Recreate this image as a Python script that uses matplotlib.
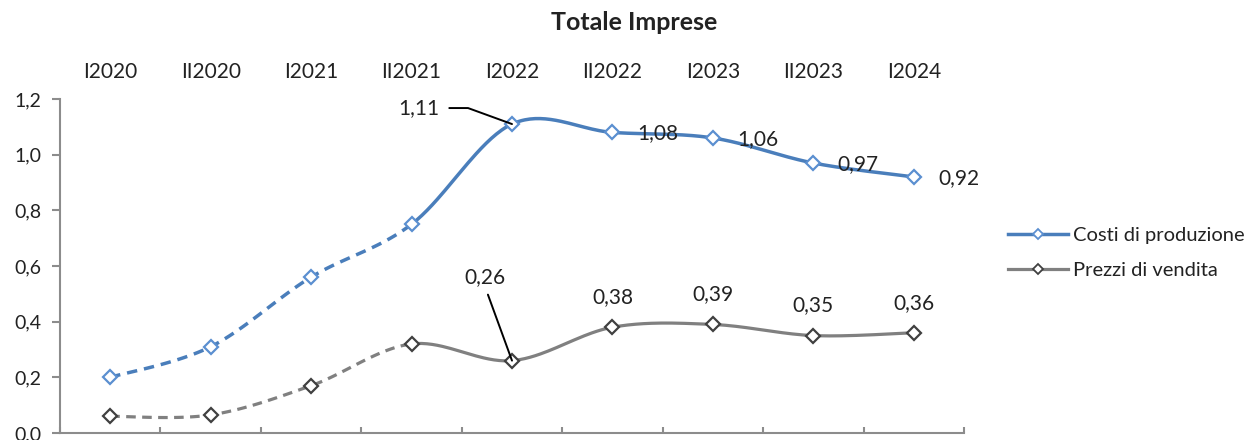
import numpy as np
import matplotlib
matplotlib.use("Agg")
import matplotlib.pyplot as plt
from matplotlib.lines import Line2D

plt.rcParams['font.family'] = ['Lato', 'DejaVu Sans']

# ---- data -----------------------------------------------------------------
periods = ["I2020", "II2020", "I2021", "II2021", "I2022",
           "II2022", "I2023", "II2023", "I2024"]
costi = [0.20, 0.31, 0.56, 0.75, 1.11, 1.08, 1.06, 0.97, 0.92]
prezzi = [0.06, 0.065, 0.17, 0.32, 0.26, 0.38, 0.39, 0.35, 0.36]
series_names = ["Costi di produzione", "Prezzi di vendita"]
title = "Totale Imprese"
yticks = [0.0, 0.2, 0.4, 0.6, 0.8, 1.0, 1.2]
labelled_costi = [4, 5, 6, 7, 8]          # indices with a value label
labelled_prezzi = [4, 5, 6, 7, 8]
dashed_until = 3                           # dashed stretch ends at this index

BLUE = "#4A7EBB"
BLUE_MK = "#5B8FD0"
GREY = "#808080"
GREY_MK = "#404040"
TXT = "#222222"
AXC = "#8C8C8C"
FS = 15


def smooth_segments(xs, ys, n=40):
    """Catmull-Rom style Bezier smoothing, one sampled array per segment."""
    P = np.column_stack([xs, ys]).astype(float)
    m = len(P)
    t = np.linspace(0, 1, n)[:, None]
    segs = []
    for i in range(m - 1):
        p0 = P[i - 1] if i > 0 else P[i]
        p3 = P[i + 2] if i + 2 < m else P[i + 1]
        a, d = P[i], P[i + 1]
        b = a + (d - p0) / 6.0
        c = d - (p3 - a) / 6.0
        pts = ((1 - t) ** 3) * a + 3 * ((1 - t) ** 2) * t * b \
            + 3 * (1 - t) * t ** 2 * c + t ** 3 * d
        segs.append(pts)
    return segs


def fmt(v):
    return f"{v:.2f}".replace(".", ",")


fig = plt.figure(figsize=(12.58, 4.40), dpi=100)
ax = fig.add_axes([60 / 1258, 7 / 440, 904 / 1258, 334 / 440])

x = np.arange(len(periods))


def draw_series(vals, color, mk_edge, lw):
    segs = smooth_segments(x, vals)
    dash = np.vstack(segs[:dashed_until])
    solid = np.vstack(segs[dashed_until:])
    ax.plot(dash[:, 0], dash[:, 1], color=color, lw=lw,
            linestyle=(0, (3.0, 2.0)), dash_capstyle="butt", zorder=2)
    ax.plot(solid[:, 0], solid[:, 1], color=color, lw=lw,
            solid_capstyle="round", zorder=2)
    ax.plot(x, vals, linestyle="none", marker="D", markersize=7.5,
            markerfacecolor="white", markeredgecolor=mk_edge,
            markeredgewidth=1.6, zorder=3)


draw_series(costi, BLUE, BLUE_MK, 2.5)
draw_series(prezzi, GREY, GREY_MK, 2.3)

# ---- axes styling ---------------------------------------------------------
ax.set_xlim(-0.5, len(periods) - 0.5)
ax.set_ylim(0, 1.2)
ax.set_yticks(yticks)
ax.set_yticklabels([f"{v:.1f}".replace(".", ",") for v in yticks],
                   fontsize=14, color=TXT)
ax.set_xticks(np.arange(-0.5, len(periods), 1.0))
ax.set_xticklabels([])
ax.tick_params(axis="x", direction="in", length=4, width=1.5, color=AXC)
ax.tick_params(axis="y", direction="out", length=5.5, width=1.5,
               color=AXC, pad=8)
for side in ("top", "right"):
    ax.spines[side].set_visible(False)
for side in ("left", "bottom"):
    ax.spines[side].set_color(AXC)
    ax.spines[side].set_linewidth(1.5)

top = ax.secondary_xaxis("top")
top.set_xticks(x)
top.set_xticklabels(periods, fontsize=FS, color=TXT)
top.tick_params(length=0, pad=12)
top.spines["top"].set_visible(False)

# ---- value labels ---------------------------------------------------------
for i in labelled_costi:
    v = costi[i]
    if i == 4:
        ax.annotate(fmt(v), xy=(i, v), xytext=(-93, 16),
                    textcoords="offset pixels", ha="center", va="center",
                    fontsize=FS, color=TXT,
                    arrowprops=dict(arrowstyle="-", color="black", lw=1.4,
                                    shrinkA=5, shrinkB=0, relpos=(1, 0.5),
                                    connectionstyle="angle,angleA=0,angleB=-20,rad=0"))
    else:
        ax.annotate(fmt(v), xy=(i, v), xytext=(45, -1),
                    textcoords="offset pixels", ha="center", va="center",
                    fontsize=FS, color=TXT, zorder=4)

for i in labelled_prezzi:
    v = prezzi[i]
    if i == 4:
        ax.annotate(fmt(v), xy=(i, v), xytext=(-27, 84),
                    textcoords="offset pixels", ha="center", va="center",
                    fontsize=FS, color=TXT,
                    arrowprops=dict(arrowstyle="-", color="black", lw=1.4,
                                    shrinkA=4, shrinkB=0, relpos=(0.5, 0)))
    else:
        ax.annotate(fmt(v), xy=(i, v), xytext=(0, 30),
                    textcoords="offset pixels", ha="center", va="center",
                    fontsize=FS, color=TXT)

# ---- title and legend -----------------------------------------------------
fig.text(634 / 1258, 1 - 23 / 440, title, ha="center", va="center",
         fontsize=18, fontweight="bold", color=TXT)

handles = [
    Line2D([], [], color=BLUE, lw=2.5, marker="D", markersize=5.5,
           markerfacecolor="white", markeredgecolor=BLUE_MK, markeredgewidth=1.3),
    Line2D([], [], color=GREY, lw=2.3, marker="D", markersize=5.5,
           markerfacecolor="white", markeredgecolor=GREY_MK, markeredgewidth=1.3),
]
fig.legend(handles, series_names, loc="center left",
           bbox_to_anchor=(1008 / 1258, 1 - 253 / 440), frameon=False,
           fontsize=14.5, handlelength=3.0, handletextpad=0.25,
           labelspacing=0.9, borderpad=0, borderaxespad=0,
           labelcolor=TXT)

fig.savefig("out.png", dpi=100)
